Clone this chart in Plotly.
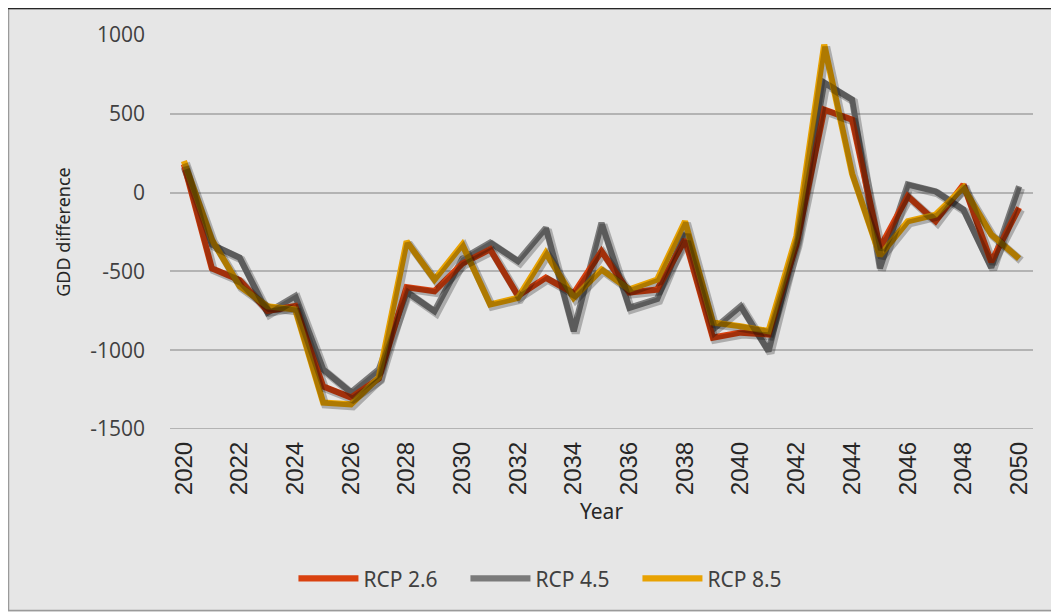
import plotly.graph_objects as go

# data
years = list(range(2020, 2051))

rcp26 = [180, -480, -555, -750, -720, -1230, -1300, -1180, -600, -625,
         -450, -360, -655, -540, -640, -372, -634, -615, -298, -920,
         -888, -900, -330, 526, 463, -350, -23, -182, 51, -440, -95]

rcp45 = [160, -330, -413, -761, -657, -1122, -1268, -1122, -630, -753,
         -420, -317, -435, -224, -879, -192, -731, -675, -254, -869,
         -721, -1006, -300, 697, 590, -480, 51, 8, -108, -476, 40]

rcp85 = [200, -298, -594, -721, -742, -1332, -1344, -1173, -309, -552,
         -330, -710, -668, -383, -668, -488, -615, -552, -182, -824,
         -848, -879, -277, 938, 120, -400, -182, -140, 32, -266, -419]

y_ticks = [-1500, -1000, -500, 0, 500, 1000]
y_tick_labels = ['-1500', '-1000', '-500', '0', '500', '1000']

series = [
    ('RCP 4.5', rcp45, '#7a7a7a', 2),
    ('RCP 2.6', rcp26, '#d9410f', 1),
    ('RCP 8.5', rcp85, '#e8a202', 3),
]

W, H = 1051, 604
ML, MR, MT, MB = 162, 26, 27, 183
pw = W - ML - MR
ph = H - MT - MB

fig = go.Figure()

# soft drop shadows (drawn on a slightly shifted overlay axis)
for name, vals, color, rank in series:
    fig.add_trace(go.Scatter(
        x=years, y=vals, mode='lines', xaxis='x2', yaxis='y2',
        line=dict(color='rgba(0,0,0,0.25)', width=8),
        hoverinfo='skip', showlegend=False
    ))

for name, vals, color, rank in series:
    fig.add_trace(go.Scatter(
        x=years, y=vals, mode='lines', name=name,
        line=dict(color=color, width=6.2),
        legendrank=rank
    ))

px_x = 31 / pw
px_y = 2500 / ph

# frame round the whole chart
fx0, fx1 = -ML / pw, (W - ML) / pw
fy0, fy1 = -MB / ph, (H - MB) / ph

fig.update_layout(
    width=W, height=H,
    margin=dict(l=ML, r=MR, t=MT, b=MB),
    paper_bgcolor='#e6e6e6',
    plot_bgcolor='#e6e6e6',
    font=dict(family='Open Sans', size=16, color='#404040'),
    showlegend=True,
    legend=dict(
        orientation='h', x=0.442, xanchor='center', y=-0.38, yanchor='middle',
        font=dict(family='Noto Sans', size=21, color='#404040'),
        bgcolor='rgba(0,0,0,0)', itemwidth=60,
        entrywidth=97, entrywidthmode='pixels'
    ),
    xaxis=dict(
        range=[2019.5, 2050.5], tickmode='linear', tick0=2020, dtick=2,
        tickangle=-90, showgrid=False, zeroline=False, showline=False,
        ticks='', ticklabelstandoff=7,
        tickfont=dict(family='Liberation Sans Narrow, Liberation Sans', size=24, color='#262626'),
        title=dict(text='Year', standoff=10, font=dict(family='Noto Sans', size=21, color='#262626'))
    ),
    yaxis=dict(
        range=[-1500, 1000], tickmode='array', tickvals=y_ticks, ticktext=y_tick_labels,
        showgrid=True, gridcolor='#b3b3b3', gridwidth=2, zeroline=False,
        showline=False, ticks='', ticklabelstandoff=24,
        tickfont=dict(family='Open Sans', size=21, color='#404040'),
        title=dict(text='GDD difference', standoff=14, font=dict(family='Noto Sans', size=18, color='#262626'))
    ),
    xaxis2=dict(
        range=[2019.5 - 2 * px_x, 2050.5 - 2 * px_x], overlaying='x',
        visible=False
    ),
    yaxis2=dict(
        range=[-1500 + 2 * px_y, 1000 + 2 * px_y], overlaying='y',
        visible=False
    ),
    shapes=[
        dict(type='line', xref='x', yref='y', x0=2019.5, x1=2050.5, y0=-1500, y1=-1500,
             line=dict(color='#b3b3b3', width=2), layer='below'),
        dict(type='rect', xref='paper', yref='paper',
             x0=fx0 + 0.5 / pw, x1=fx1 + 2 / pw, y0=fy0 + 1.5 / ph, y1=fy1 - 0.5 / ph,
             line=dict(color='#9a9a9a', width=1.5)),
        dict(type='line', xref='paper', yref='paper',
             x0=fx0, x1=fx1, y0=fy1 - 0.5 / ph, y1=fy1 - 0.5 / ph,
             line=dict(color='#262626', width=1.5)),
    ]
)

fig.write_html("out.html")
